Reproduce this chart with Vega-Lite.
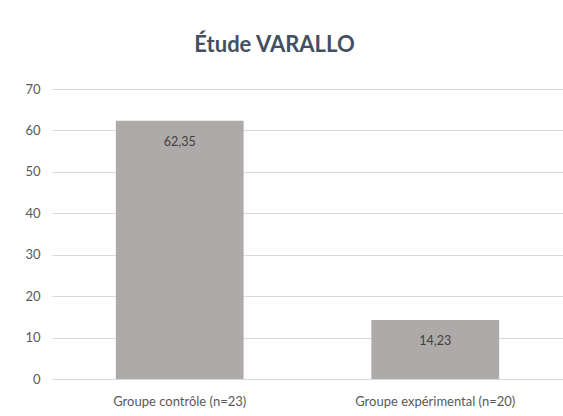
{
  "$schema": "https://vega.github.io/schema/vega-lite/v6.json",
  "autosize": {"type": "none"},
  "width": 511,
  "height": 290,
  "padding": {"left": 52, "top": 89, "right": 0, "bottom": 37},
  "background": "white",
  "config": {
    "view": {"stroke": null},
    "font": "Lato",
    "locale": {"number": {"decimal": ",", "thousands": " ", "grouping": [3], "currency": ["", " €"]}}
  },
  "title": {
    "text": "Étude VARALLO",
    "font": "Lato",
    "fontSize": 22,
    "fontWeight": "bold",
    "color": "#44505F",
    "anchor": "middle",
    "dx": -33,
    "offset": 26
  },
  "data": {
    "values": [
      {"groupe": "Groupe contrôle (n=23)", "valeur": 62.35},
      {"groupe": "Groupe expérimental (n=20)", "valeur": 14.23}
    ]
  },
  "encoding": {
    "x": {
      "field": "groupe",
      "type": "nominal",
      "sort": null,
      "scale": {"paddingInner": 0.5, "paddingOuter": 0.25},
      "axis": {
        "title": null,
        "labelAngle": 0,
        "labelFontSize": 13,
        "labelColor": "#595959",
        "labelPadding": 16,
        "ticks": false,
        "domain": false
      }
    },
    "y": {
      "field": "valeur",
      "type": "quantitative",
      "scale": {"domain": [0, 70], "nice": false},
      "axis": {
        "title": null,
        "values": [0, 10, 20, 30, 40, 50, 60, 70],
        "format": "d",
        "labelFontSize": 13,
        "labelColor": "#595959",
        "labelPadding": 12,
        "ticks": false,
        "domain": false,
        "grid": true,
        "gridColor": "#D9D9D9",
        "gridWidth": 1
      }
    }
  },
  "layer": [
    {"mark": {"type": "bar", "color": "#AEAAAA"}},
    {
      "mark": {"type": "text", "dy": 21, "fontSize": 12.5, "color": "#404040", "baseline": "middle"},
      "encoding": {"text": {"field": "valeur", "type": "quantitative", "format": ".2f"}}
    }
  ]
}
